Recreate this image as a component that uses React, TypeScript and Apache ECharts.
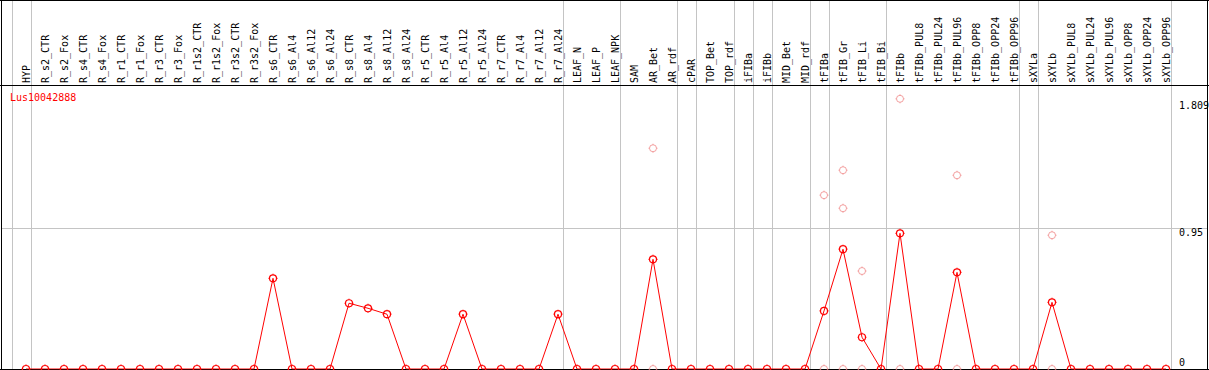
import React, { useEffect, useRef } from 'react';
import * as echarts from 'echarts';

const categories = [
  'HYP', 'R_s2_CTR', 'R_s2_Fox', 'R_s4_CTR', 'R_s4_Fox', 'R_r1_CTR', 'R_r1_Fox', 'R_r3_CTR', 'R_r3_Fox',
  'R_r1s2_CTR', 'R_r1s2_Fox', 'R_r3s2_CTR', 'R_r3s2_Fox', 'R_s6_CTR', 'R_s6_Al4', 'R_s6_Al12', 'R_s6_Al24',
  'R_s8_CTR', 'R_s8_Al4', 'R_s8_Al12', 'R_s8_Al24', 'R_r5_CTR', 'R_r5_Al4', 'R_r5_Al12', 'R_r5_Al24',
  'R_r7_CTR', 'R_r7_Al4', 'R_r7_Al12', 'R_r7_Al24', 'LEAF_N', 'LEAF_P', 'LEAF_NPK', 'SAM', 'AR_Bet', 'AR_rdf',
  'cPAR', 'TOP_Bet', 'TOP_rdf', 'iFIBa', 'iFIBb', 'MID_Bet', 'MID_rdf', 'tFIBa', 'tFIB_Gr', 'tFIB_Li', 'tFIB_Bi',
  'tFIBb', 'tFIBb_PUL8', 'tFIBb_PUL24', 'tFIBb_PUL96', 'tFIBb_OPP8', 'tFIBb_OPP24', 'tFIBb_OPP96',
  'sXYLa', 'sXYLb', 'sXYLb_PUL8', 'sXYLb_PUL24', 'sXYLb_PUL96', 'sXYLb_OPP8', 'sXYLb_OPP24', 'sXYLb_OPP96',
];

// mean expression per sample (red line)
const meanValues = [
  0, 0, 0, 0, 0, 0, 0, 0, 0, 0, 0, 0, 0, 0.611, 0, 0, 0,
  0.443, 0.409, 0.369, 0, 0, 0, 0.369, 0,
  0, 0, 0, 0.369, 0, 0, 0, 0, 0.739, 0,
  0, 0, 0, 0, 0, 0, 0, 0.391, 0.807, 0.214, 0,
  0.914, 0, 0, 0.651, 0, 0, 0,
  0, 0.449, 0, 0, 0, 0, 0, 0,
];

// individual replicates (pink circles)
const replicateCategories = [
  'AR_Bet', 'AR_Bet', 'tFIBa', 'tFIBa', 'tFIB_Gr', 'tFIB_Gr', 'tFIB_Gr', 'tFIB_Li', 'tFIB_Li',
  'tFIBb', 'tFIBb', 'tFIBb_PUL96', 'tFIBb_PUL96', 'sXYLb', 'sXYLb',
];
const replicateValues = [
  1.487, 0, 1.171, 0, 1.339, 1.083, 0, 0.66, 0,
  1.82, 0, 1.305, 0, 0.901, 0,
];

// groups end after these category indices (-1 = before first)
const separatorsAfter = [-1, 0, 28, 31, 34, 35, 37, 38, 39, 41, 42, 45, 52, 53, 60];
const yTickValues = [0, 0.95, 1.809];
const gridValue = 0.95;
const geneName = 'Lus10042888';
const yMax = 1.913;

const FONT = '"DejaVu Sans Mono", monospace';
const markerPath =
  'path://M-3.5,0A3.5,3.5,0,1,1,3.5,0A3.5,3.5,0,1,1,-3.5,0Z M0,-4.5L0,-3.5 M0,3.5L0,4.5 M-4.5,0L-3.5,0 M3.5,0L4.5,0';

export default function App() {
  const ref = useRef<HTMLDivElement>(null);

  useEffect(() => {
    if (!ref.current) return;
    const chart = echarts.init(ref.current, null, { renderer: 'svg' });
    chart.setOption({
      animation: false,
      backgroundColor: '#ffffff',
      grid: { left: 16.5, right: 33.5, top: 85, bottom: 1, containLabel: false },
      xAxis: {
        type: 'category',
        position: 'top',
        data: categories,
        boundaryGap: true,
        axisLine: { show: false },
        axisTick: { show: false },
        splitLine: { show: false },
        axisLabel: {
          interval: 0,
          rotate: 90,
          margin: 2,
          fontFamily: FONT,
          fontSize: 10,
          color: '#000000',
        },
      },
      yAxis: {
        type: 'value',
        min: 0,
        max: yMax,
        show: false,
      },
      series: [
        {
          name: 'replicates',
          type: 'scatter',
          data: replicateCategories.map((c, i) => [c, replicateValues[i]]),
          symbol: markerPath,
          symbolSize: 9,
          itemStyle: { color: 'rgba(0,0,0,0)', borderColor: '#f08a8a', borderWidth: 1 },
          z: 3,
        },
        {
          name: 'mean',
          type: 'line',
          data: meanValues,
          symbol: markerPath,
          symbolSize: 9,
          showAllSymbol: true,
          lineStyle: { color: '#ff0000', width: 1 },
          itemStyle: { color: 'rgba(0,0,0,0)', borderColor: '#ff0000', borderWidth: 1.2 },
          z: 4,
        },
      ],
    });

    const x0 = chart.convertToPixel({ xAxisIndex: 0 }, 0) as number;
    const x1 = chart.convertToPixel({ xAxisIndex: 0 }, 1) as number;
    const band = x1 - x0;
    const yOf = (v: number) => chart.convertToPixel({ yAxisIndex: 0 }, v) as number;
    const gray = '#c4c4c4';
    const graphics: any[] = [];

    separatorsAfter.forEach((idx) => {
      const x = Math.round(x0 + band * idx + 4.5) + 0.5;
      graphics.push({
        type: 'line',
        z: 1,
        shape: { x1: x, y1: 0, x2: x, y2: 369 },
        style: { stroke: gray, lineWidth: 1 },
      });
    });
    const gy = Math.round(yOf(gridValue)) + 0.5;
    graphics.push({
      type: 'line',
      z: 1,
      shape: { x1: 1, y1: gy, x2: 1207, y2: gy },
      style: { stroke: gray, lineWidth: 1 },
    });
    const black = [
      [0, 0.5, 1209, 0.5],
      [0, 85.5, 1209, 85.5],
      [0, 369.5, 1209, 369.5],
      [1.5, 0, 1.5, 370],
      [1207.5, 0, 1207.5, 370],
    ];
    black.forEach(([ax, ay, bx, by]) =>
      graphics.push({
        type: 'line',
        z: 2,
        shape: { x1: ax, y1: ay, x2: bx, y2: by },
        style: { stroke: '#000000', lineWidth: 1 },
      })
    );
    yTickValues.forEach((v) => {
      const y = yOf(v);
      graphics.push({
        type: 'text',
        z: 5,
        x: 1179,
        y: v === 0 ? y - 7 : y + 5,
        style: {
          text: String(v),
          fontFamily: FONT,
          fontSize: 10,
          fill: '#000000',
          align: 'left',
          verticalAlign: 'middle',
        },
      });
    });
    graphics.push({
      type: 'text',
      z: 5,
      x: 10,
      y: 97,
      style: {
        text: geneName,
        fontFamily: FONT,
        fontSize: 10,
        fill: '#ff0000',
        align: 'left',
        verticalAlign: 'middle',
      },
    });
    chart.setOption({ graphic: graphics });

    return () => chart.dispose();
  }, []);

  return (
    <div
      ref={ref}
      style={{ position: 'fixed', left: 0, top: 0, width: 1209, height: 370, background: '#fff' }}
    />
  );
}
